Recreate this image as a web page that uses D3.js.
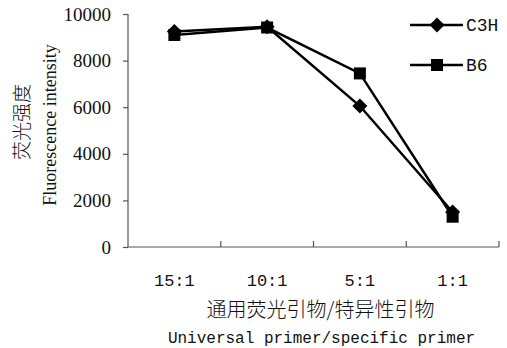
<!DOCTYPE html>
<html><head><meta charset="utf-8">
<script src="https://cdn.jsdelivr.net/npm/d3@7"></script>
<style>body{margin:0;background:#fff}svg{display:block}</style>
</head><body>
<script>
const categories = ["15:1","10:1","5:1","1:1"];
const c3h = [9250, 9450, 6050, 1500];
const b6 = [9100, 9420, 7450, 1300];
const seriesNames = ["C3H","B6"];
const yTicks = [0,2000,4000,6000,8000,10000];

(function(){
const W=507,H=348;
const svg=d3.select("body").append("svg").attr("width",W).attr("height",H);
const mL=128,mR=499,mT=14,mB=247;
const x=d3.scaleBand().domain(categories).range([mL,mR]);
const y=d3.scaleLinear().domain([0,10000]).range([mB,mT]);
const axisColor="#555";

// y axis
const ya=svg.append("g").attr("transform",`translate(${mL},0)`)
  .call(d3.axisLeft(y).tickValues(yTicks).tickSize(5).tickPadding(12).tickFormat(d3.format("d")));
ya.selectAll("path,line").attr("stroke",axisColor).attr("stroke-width",1.2);
ya.select(".domain").attr("d",`M0,${mT}V${mB}`);
ya.selectAll("text").attr("font-family","Liberation Serif").attr("font-size",19).attr("fill","#111");

// x axis
const xa=svg.append("g").attr("transform",`translate(0,${mB})`);
xa.append("line").attr("x1",mL).attr("x2",mR).attr("stroke",axisColor).attr("stroke-width",1.2);
const bounds=categories.map(c=>x(c)+x.bandwidth());
xa.selectAll("line.t").data(bounds).enter().append("line").attr("class","t")
  .attr("x1",d=>d).attr("x2",d=>d).attr("y1",0).attr("y2",-6).attr("stroke",axisColor).attr("stroke-width",1.2);
xa.selectAll("text").data(categories).enter().append("text")
  .attr("x",d=>x(d)+x.bandwidth()/2).attr("y",39).attr("text-anchor","middle")
  .attr("font-family","Liberation Mono").attr("font-size",17).attr("fill","#111").text(d=>d);

// titles
svg.append("text").attr("x",(mL+mR)/2+7).attr("y",317).attr("text-anchor","middle")
  .attr("font-family","Noto Sans CJK SC").attr("font-weight",300).attr("font-size",20).attr("fill","#111").text("通用荧光引物/特异性引物");
svg.append("text").attr("x",(mL+mR)/2+8).attr("y",343).attr("text-anchor","middle")
  .attr("font-family","Liberation Mono").attr("font-size",16).attr("fill","#111").text("Universal primer/specific primer");
svg.append("text").attr("transform","translate(56,125) rotate(-90)").attr("text-anchor","middle")
  .attr("font-family","Liberation Serif").attr("font-size",18).attr("fill","#111").text("Fluorescence intensity");
svg.append("text").attr("transform","translate(29,122) rotate(-90)").attr("text-anchor","middle")
  .attr("font-family","Noto Sans CJK SC").attr("font-weight",300).attr("font-size",19).attr("fill","#111").text("荧光强度");

const line=d3.line().x((d,i)=>x(categories[i])+x.bandwidth()/2).y(d=>y(d));
const diamond=(g,cx,cy)=>g.append("path").attr("d",`M${cx},${cy-7.5}L${cx+7.5},${cy}L${cx},${cy+7.5}L${cx-7.5},${cy}Z`).attr("fill","#000");
const square=(g,cx,cy)=>g.append("rect").attr("x",cx-6).attr("y",cy-6).attr("width",12).attr("height",12).attr("fill","#000");

[[b6,square],[c3h,diamond]].forEach(([vals,m])=>{
  const g=svg.append("g");
  g.append("path").datum(vals).attr("d",line).attr("fill","none").attr("stroke","#000").attr("stroke-width",2.5);
  vals.forEach((v,i)=>m(g,x(categories[i])+x.bandwidth()/2,y(v)));
});

// legend
const lg=svg.append("g");
[[seriesNames[0],diamond,25],[seriesNames[1],square,65]].forEach(([n,m,ly])=>{
  lg.append("line").attr("x1",410).attr("x2",463).attr("y1",ly).attr("y2",ly).attr("stroke","#000").attr("stroke-width",2.5);
  m(lg,437,ly);
  lg.append("text").attr("x",466).attr("y",ly+6).attr("font-family","Liberation Mono").attr("font-size",18).attr("fill","#111").text(n);
});
})();
</script>
</body></html>
